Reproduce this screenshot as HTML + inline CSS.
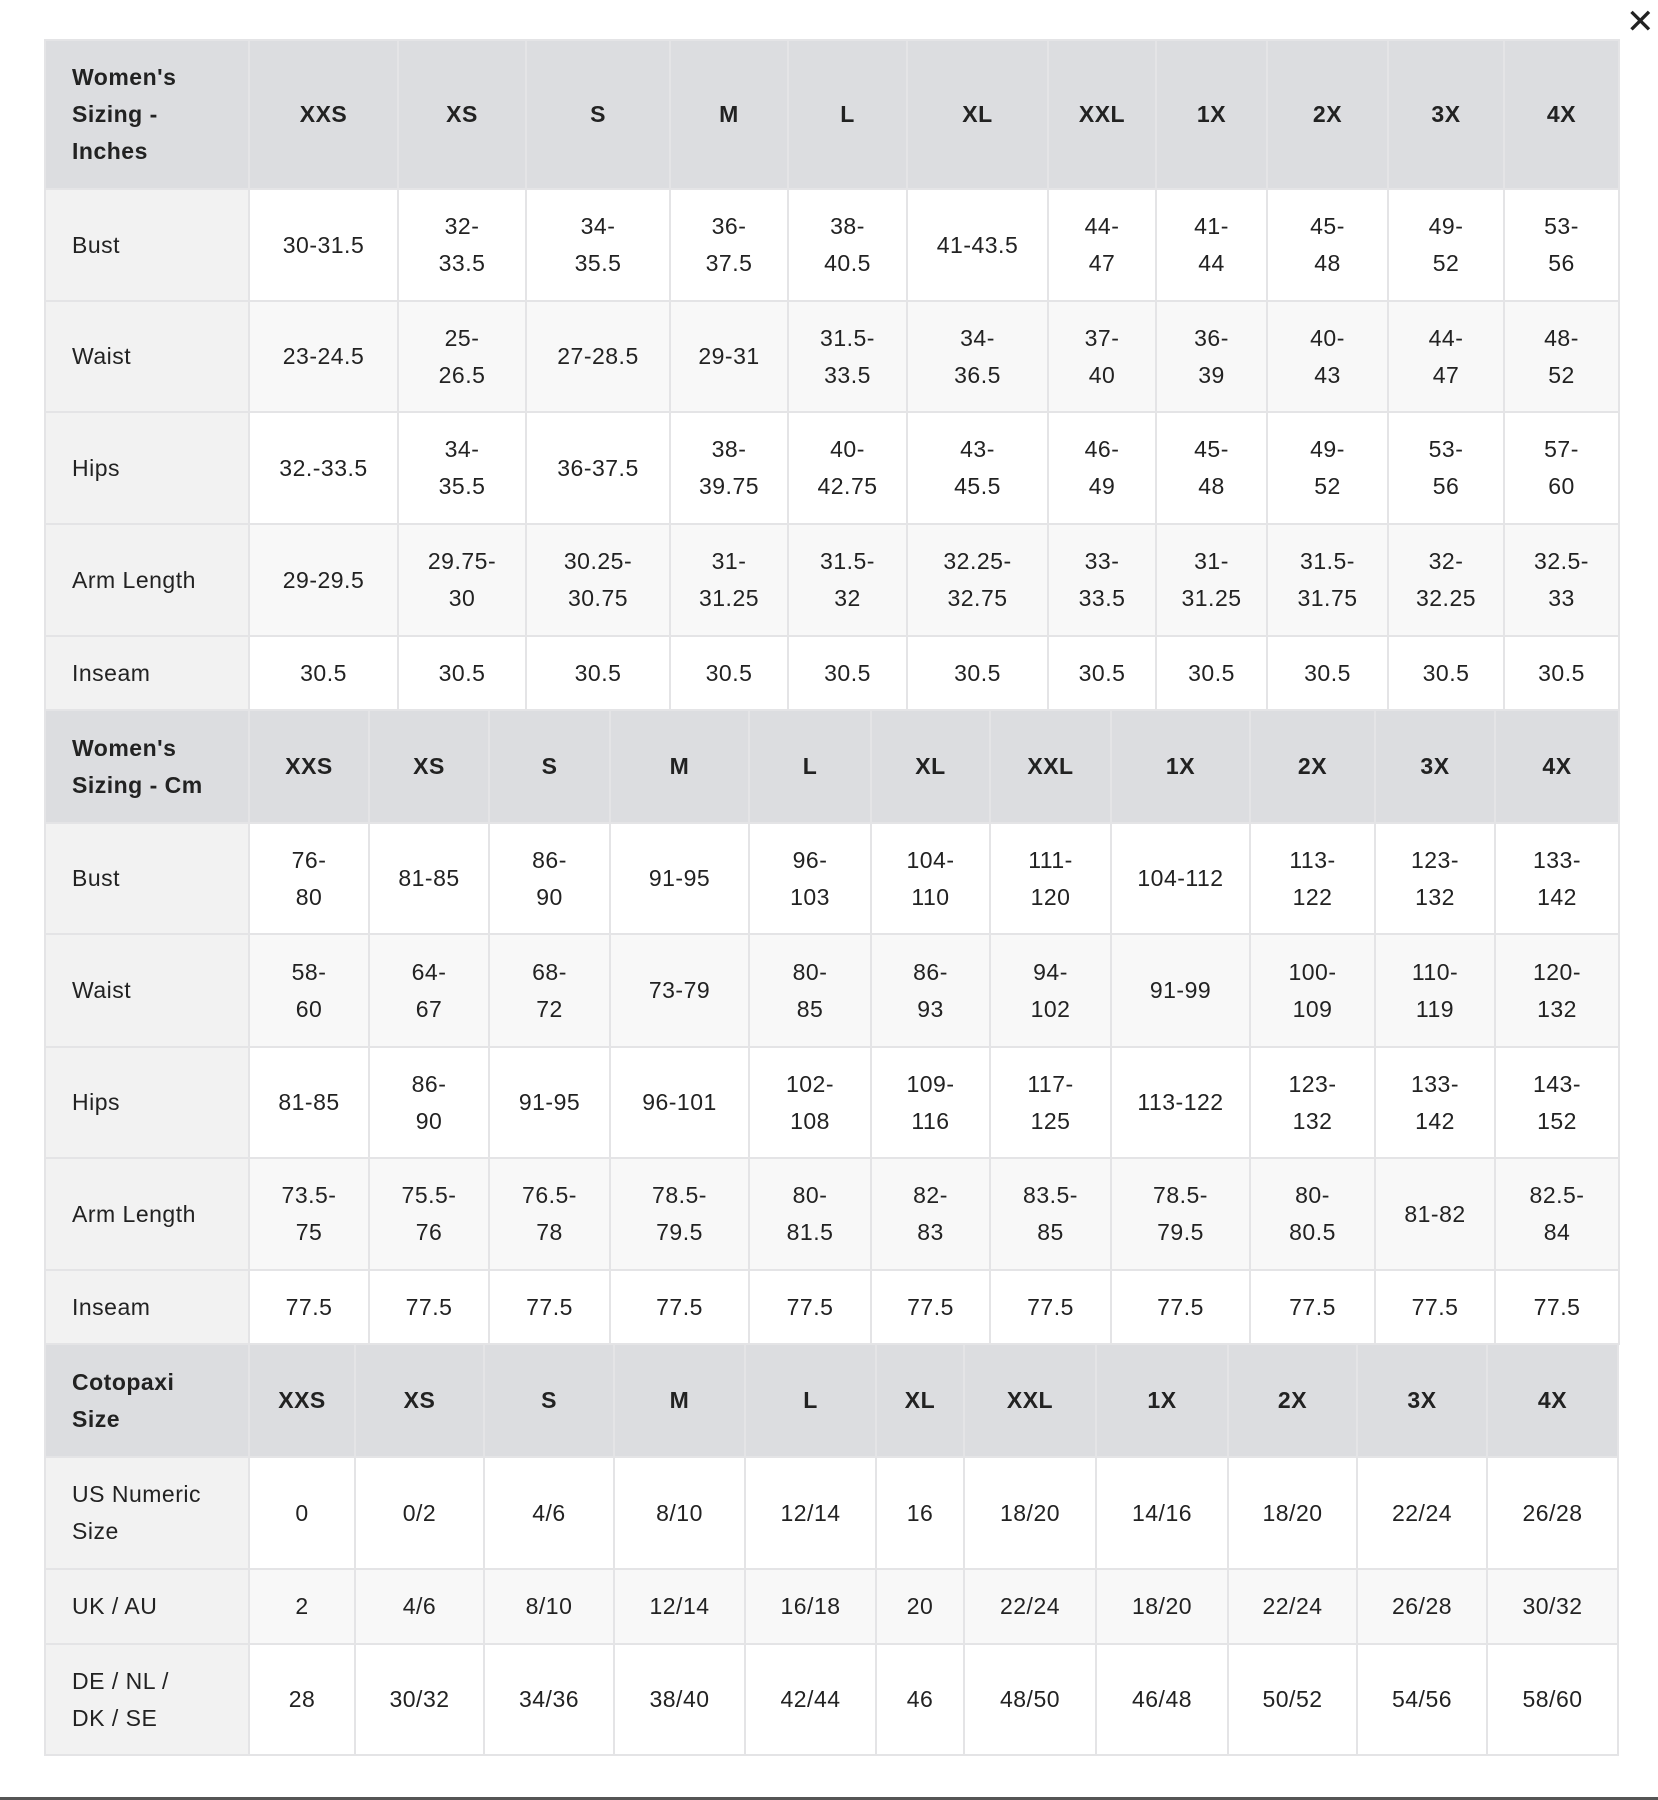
<!DOCTYPE html>
<html><head><meta charset="utf-8"><style>
body{margin:0;width:1658px;height:1800px;background:#fff;position:relative;overflow:hidden;font-family:"Liberation Sans",sans-serif;color:#222}
table{position:absolute;left:44px;border-collapse:collapse;table-layout:fixed;width:1574px}
td{border:2px solid #e4e4e6;text-align:center;vertical-align:middle;font-size:23px;line-height:37px;white-space:nowrap;padding:0;overflow:hidden;letter-spacing:0.5px}
td:first-child{text-align:left;padding-left:26px;background:#f2f2f2}
tr.h td{background:#dcdde0;font-weight:bold;font-size:23px}
tr.a td{background:#fff}
tr.b td{background:#f8f8f8}
tr.a td:first-child,tr.b td:first-child{background:#f2f2f2}
.x{position:absolute;left:1626px;top:2px;font-size:34px;color:#222}
.bl{position:absolute;left:0;top:1797px;width:1658px;height:3px;background:#555}
</style></head><body>
<div class="x">✕</div>
<table style="top:39px">
<colgroup><col style="width:204px"><col style="width:149px"><col style="width:128px"><col style="width:144px"><col style="width:118px"><col style="width:119px"><col style="width:141px"><col style="width:108px"><col style="width:111px"><col style="width:121px"><col style="width:116px"><col style="width:115px"></colgroup>
<tr class="h" style="height:149px"><td>Women's<br>Sizing -<br>Inches</td><td>XXS</td><td>XS</td><td>S</td><td>M</td><td>L</td><td>XL</td><td>XXL</td><td>1X</td><td>2X</td><td>3X</td><td>4X</td></tr>
<tr class="a" style="height:112px"><td>Bust</td><td>30-31.5</td><td>32-<br>33.5</td><td>34-<br>35.5</td><td>36-<br>37.5</td><td>38-<br>40.5</td><td>41-43.5</td><td>44-<br>47</td><td>41-<br>44</td><td>45-<br>48</td><td>49-<br>52</td><td>53-<br>56</td></tr>
<tr class="b" style="height:111px"><td>Waist</td><td>23-24.5</td><td>25-<br>26.5</td><td>27-28.5</td><td>29-31</td><td>31.5-<br>33.5</td><td>34-<br>36.5</td><td>37-<br>40</td><td>36-<br>39</td><td>40-<br>43</td><td>44-<br>47</td><td>48-<br>52</td></tr>
<tr class="a" style="height:112px"><td>Hips</td><td>32.-33.5</td><td>34-<br>35.5</td><td>36-37.5</td><td>38-<br>39.75</td><td>40-<br>42.75</td><td>43-<br>45.5</td><td>46-<br>49</td><td>45-<br>48</td><td>49-<br>52</td><td>53-<br>56</td><td>57-<br>60</td></tr>
<tr class="b" style="height:112px"><td>Arm Length</td><td>29-29.5</td><td>29.75-<br>30</td><td>30.25-<br>30.75</td><td>31-<br>31.25</td><td>31.5-<br>32</td><td>32.25-<br>32.75</td><td>33-<br>33.5</td><td>31-<br>31.25</td><td>31.5-<br>31.75</td><td>32-<br>32.25</td><td>32.5-<br>33</td></tr>
<tr class="a" style="height:74px"><td>Inseam</td><td>30.5</td><td>30.5</td><td>30.5</td><td>30.5</td><td>30.5</td><td>30.5</td><td>30.5</td><td>30.5</td><td>30.5</td><td>30.5</td><td>30.5</td></tr>
</table>
<table style="top:709px">
<colgroup><col style="width:204px"><col style="width:120px"><col style="width:120px"><col style="width:121px"><col style="width:139px"><col style="width:122px"><col style="width:119px"><col style="width:121px"><col style="width:139px"><col style="width:125px"><col style="width:120px"><col style="width:124px"></colgroup>
<tr class="h" style="height:113px"><td>Women's<br>Sizing - Cm</td><td>XXS</td><td>XS</td><td>S</td><td>M</td><td>L</td><td>XL</td><td>XXL</td><td>1X</td><td>2X</td><td>3X</td><td>4X</td></tr>
<tr class="a" style="height:111px"><td>Bust</td><td>76-<br>80</td><td>81-85</td><td>86-<br>90</td><td>91-95</td><td>96-<br>103</td><td>104-<br>110</td><td>111-<br>120</td><td>104-112</td><td>113-<br>122</td><td>123-<br>132</td><td>133-<br>142</td></tr>
<tr class="b" style="height:113px"><td>Waist</td><td>58-<br>60</td><td>64-<br>67</td><td>68-<br>72</td><td>73-79</td><td>80-<br>85</td><td>86-<br>93</td><td>94-<br>102</td><td>91-99</td><td>100-<br>109</td><td>110-<br>119</td><td>120-<br>132</td></tr>
<tr class="a" style="height:111px"><td>Hips</td><td>81-85</td><td>86-<br>90</td><td>91-95</td><td>96-101</td><td>102-<br>108</td><td>109-<br>116</td><td>117-<br>125</td><td>113-122</td><td>123-<br>132</td><td>133-<br>142</td><td>143-<br>152</td></tr>
<tr class="b" style="height:112px"><td>Arm Length</td><td>73.5-<br>75</td><td>75.5-<br>76</td><td>76.5-<br>78</td><td>78.5-<br>79.5</td><td>80-<br>81.5</td><td>82-<br>83</td><td>83.5-<br>85</td><td>78.5-<br>79.5</td><td>80-<br>80.5</td><td>81-82</td><td>82.5-<br>84</td></tr>
<tr class="a" style="height:74px"><td>Inseam</td><td>77.5</td><td>77.5</td><td>77.5</td><td>77.5</td><td>77.5</td><td>77.5</td><td>77.5</td><td>77.5</td><td>77.5</td><td>77.5</td><td>77.5</td></tr>
</table>
<table style="top:1343px">
<colgroup><col style="width:204px"><col style="width:106px"><col style="width:129px"><col style="width:130px"><col style="width:131px"><col style="width:131px"><col style="width:88px"><col style="width:132px"><col style="width:132px"><col style="width:129px"><col style="width:130px"><col style="width:131px"></colgroup>
<tr class="h" style="height:113px"><td>Cotopaxi<br>Size</td><td>XXS</td><td>XS</td><td>S</td><td>M</td><td>L</td><td>XL</td><td>XXL</td><td>1X</td><td>2X</td><td>3X</td><td>4X</td></tr>
<tr class="a" style="height:112px"><td>US Numeric<br>Size</td><td>0</td><td>0/2</td><td>4/6</td><td>8/10</td><td>12/14</td><td>16</td><td>18/20</td><td>14/16</td><td>18/20</td><td>22/24</td><td>26/28</td></tr>
<tr class="b" style="height:75px"><td>UK / AU</td><td>2</td><td>4/6</td><td>8/10</td><td>12/14</td><td>16/18</td><td>20</td><td>22/24</td><td>18/20</td><td>22/24</td><td>26/28</td><td>30/32</td></tr>
<tr class="a" style="height:111px"><td>DE / NL /<br>DK / SE</td><td>28</td><td>30/32</td><td>34/36</td><td>38/40</td><td>42/44</td><td>46</td><td>48/50</td><td>46/48</td><td>50/52</td><td>54/56</td><td>58/60</td></tr>
</table>
<div class="bl"></div>
</body></html>
